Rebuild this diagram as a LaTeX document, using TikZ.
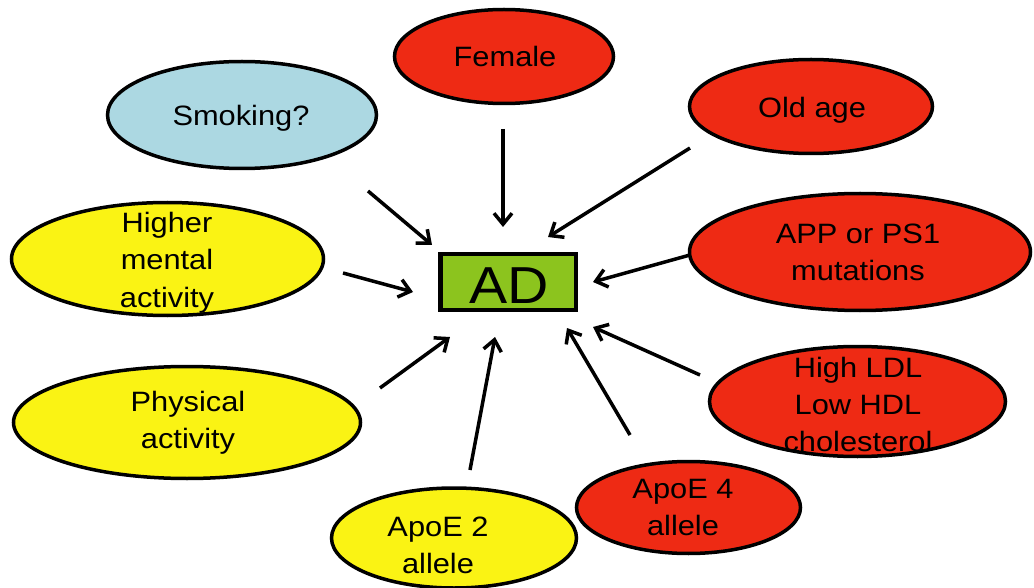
\documentclass[tikz,border=0pt]{standalone}
\usepackage{fontspec}
\setmainfont{Liberation Sans}[FakeStretch=1.1]
\usetikzlibrary{arrows.meta,shapes.geometric}
\definecolor{adred}{RGB}{238,42,20}
\definecolor{adyellow}{RGB}{250,243,20}
\definecolor{adblue}{RGB}{172,216,226}
\definecolor{adgreen}{RGB}{140,196,30}
\tikzset{
  ell/.style={ellipse, draw=black, line width=3.5pt, inner sep=0pt},
  redell/.style={ell, fill=adred},
  yelell/.style={ell, fill=adyellow},
  bluell/.style={ell, fill=adblue},
  lbl/.style={anchor=base, align=center, inner sep=0pt, font=\fontsize{28}{37}\selectfont},
  arr/.style={line width=3.5pt, -{Straight Barb[length=11pt, width=18pt, line width=3.5pt]}},
  adbox/.style={rectangle, draw=black, line width=4.5pt, fill=adgreen, minimum width=135.5pt, minimum height=55.5pt, inner sep=0pt}
}
\begin{document}
\begin{tikzpicture}[x=1pt,y=-1pt]
\useasboundingbox (0,0) rectangle (1034,588);
\fill[white] (0,0) rectangle (1034,588);
% ellipses
\node[redell, minimum width=219pt, minimum height=94pt] (female) at (504,56.5) {};
\node[bluell, minimum width=269pt, minimum height=107pt] (smoking) at (242,115) {};
\node[redell, minimum width=243pt, minimum height=94pt] (oldage) at (811,106.5) {};
\node[yelell, minimum width=312pt, minimum height=113pt] (higher) at (167.5,259) {};
\node[redell, minimum width=341pt, minimum height=117pt] (app) at (860,252) {};
\node[yelell, minimum width=347pt, minimum height=112pt] (physical) at (187,422.5) {};
\node[redell, minimum width=296pt, minimum height=110pt] (ldl) at (857.5,401.5) {};
\node[redell, minimum width=224pt, minimum height=92pt] (apoe4) at (688.5,507.5) {};
\node[yelell, minimum width=245pt, minimum height=100pt] (apoe2) at (454,538) {};
% AD box
\node[adbox] (ad) at (508,282) {};
\node[anchor=base, inner sep=0pt, font=\fontsize{52}{52}\selectfont] at (509,303) {AD};
% labels (base anchor = baseline of the last line)
\node[lbl] (tfemale) at (505,67) {Female};
\node[lbl] (tsmoking) at (241,126) {Smoking?};
\node[lbl] (toldage) at (812,118) {Old age};
\node[lbl] (thigher) at (167,307) {Higher\\mental\\activity};
\node[lbl] (tapp) at (858,280) {APP or PS1\\mutations};
\node[lbl] (tphysical) at (188,448) {Physical\\activity};
\node[lbl] (tldl) at (858,451) {High LDL\\Low HDL\\cholesterol};
\node[lbl] (tapoe4) at (683,535) {ApoE 4\\allele};
\node[lbl] (tapoe2) at (438,573) {ApoE 2\\allele};
% arrow end points
\coordinate (sfemale) at (503,129);  \coordinate (efemale) at (503,227);
\coordinate (ssmoking) at (368,191); \coordinate (esmoking) at (432,245);
\coordinate (soldage) at (690,148);  \coordinate (eoldage) at (548,237);
\coordinate (shigher) at (343,273);  \coordinate (ehigher) at (413,292);
\coordinate (sapp) at (690,255);     \coordinate (eapp) at (593,282);
\coordinate (sldl) at (700,375);     \coordinate (eldl) at (593,327);
\coordinate (sapoe4) at (630,435);   \coordinate (eapoe4) at (567,328);
\coordinate (sapoe2) at (470,470);   \coordinate (eapoe2) at (495,337);
\coordinate (sphysical) at (380,388);\coordinate (ephysical) at (450,337);
\foreach \n in {female,smoking,oldage,higher,app,ldl,apoe4,apoe2,physical}
  \draw[arr] (s\n) -- (e\n);
\end{tikzpicture}
\end{document}
